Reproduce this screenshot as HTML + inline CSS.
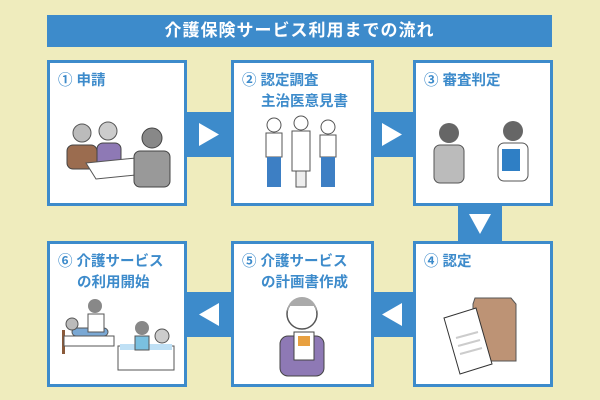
<!DOCTYPE html>
<html><head><meta charset="utf-8"><style>
body{margin:0;width:600px;height:400px;background:#efecbd;position:relative;overflow:hidden;font-family:"Liberation Sans","Noto Sans CJK JP",sans-serif}
.t{position:absolute;left:47px;top:15px;width:505px;height:32px;background:#3d8bcb;color:#fff;font-weight:bold;font-size:17px;text-align:center;line-height:32px;letter-spacing:1px}
.b{position:absolute;width:134px;height:140px;border:3px solid #3d8bcb;background:#fff}
.l{position:absolute;left:8px;top:8px;color:#3d8bcb;font-weight:bold;font-size:14.5px;line-height:21px;padding-left:19px;text-indent:-19px;white-space:nowrap}
.c{position:absolute;background:#3d8bcb}
svg{position:absolute}
</style></head><body>
<div class="t">介護保険サービス利用までの流れ</div>
<div class="c" style="left:187px;top:112px;width:44px;height:45px"></div>
<div class="c" style="left:371px;top:112px;width:42px;height:45px"></div>
<div class="c" style="left:458px;top:205px;width:44px;height:36px"></div>
<div class="c" style="left:187px;top:292px;width:44px;height:45px"></div>
<div class="c" style="left:371px;top:292px;width:42px;height:45px"></div>
<svg width="600" height="400" style="left:0;top:0">
<polygon points="199,123 219,134.5 199,146" fill="#fff"/>
<polygon points="382,123 402,134.5 382,146" fill="#fff"/>
<polygon points="469,214 491,214 480,234" fill="#fff"/>
<polygon points="219,303 199,314.5 219,326" fill="#fff"/>
<polygon points="402,303 382,314.5 402,326" fill="#fff"/>
</svg>
<div class="b" style="left:47px;top:60px"><div class="l">① 申請</div>
<svg width="134" height="140"><circle cx="32" cy="70" r="9" fill="#bbb" stroke="#555"/><rect x="17" y="82" width="30" height="24" rx="6" fill="#9b6c4f" stroke="#444"/><circle cx="58" cy="68" r="9" fill="#ccc" stroke="#555"/><rect x="47" y="80" width="24" height="24" rx="6" fill="#8e79b5" stroke="#444"/><polygon points="36,100 96,94 106,110 46,116" fill="#fff" stroke="#555"/><circle cx="102" cy="75" r="10" fill="#888" stroke="#444"/><rect x="84" y="88" width="36" height="36" rx="6" fill="#999" stroke="#444"/></svg></div>
<div class="b" style="left:231px;top:60px;width:137px"><div class="l">② 認定調査<br>主治医意見書</div>
<svg width="137" height="140"><g fill="#fff" stroke="#555"><circle cx="40" cy="62" r="7"/><rect x="32" y="70" width="16" height="24"/><circle cx="67" cy="60" r="7"/><rect x="58" y="68" width="18" height="40"/><circle cx="94" cy="64" r="7"/><rect x="86" y="72" width="16" height="22"/></g><g fill="#3d7fc4"><rect x="33" y="94" width="14" height="30"/><rect x="87" y="94" width="14" height="30"/></g><rect x="62" y="108" width="10" height="16" fill="#eee" stroke="#555"/></svg></div>
<div class="b" style="left:413px;top:60px"><div class="l">③ 審査判定</div>
<svg width="134" height="140"><circle cx="33" cy="70" r="10" fill="#666"/><rect x="18" y="82" width="30" height="38" rx="6" fill="#bbb" stroke="#555"/><circle cx="97" cy="68" r="10" fill="#666"/><rect x="82" y="80" width="30" height="38" rx="6" fill="#fff" stroke="#555"/><rect x="86" y="86" width="18" height="22" fill="#2f7fc5"/></svg></div>
<div class="b" style="left:413px;top:241px"><div class="l">④ 認定</div>
<svg width="134" height="140"><polygon points="59,54 95,54 100,60 100,117 57,117 57,60" fill="#bd9375" stroke="#555"/><polygon points="28,74 60,64 76,120 44,130" fill="#fff" stroke="#333"/><g stroke="#ccc" stroke-width="2"><line x1="40" y1="94" x2="62" y2="88"/><line x1="42" y1="102" x2="64" y2="96"/><line x1="44" y1="110" x2="66" y2="104"/></g></svg></div>
<div class="b" style="left:231px;top:241px;width:137px"><div class="l">⑤ 介護サービス<br>の計画書作成</div>
<svg width="137" height="140"><circle cx="68" cy="70" r="15" fill="#fff" stroke="#555" stroke-width="1.5"/><path d="M53,68 a15,15 0 0 1 30,0 l-3,-6 -24,0z" fill="#aaa"/><rect x="46" y="92" width="44" height="40" rx="8" fill="#8e79b5" stroke="#444"/><rect x="60" y="88" width="20" height="28" fill="#fff" stroke="#444"/><rect x="64" y="92" width="12" height="10" fill="#e8a040"/></svg></div>
<div class="b" style="left:47px;top:241px"><div class="l">⑥ 介護サービス<br>の利用開始</div>
<svg width="134" height="140"><rect x="12" y="86" width="3" height="24" fill="#8a5a3a"/><rect x="14" y="92" width="50" height="10" fill="#fff" stroke="#555"/><rect x="22" y="84" width="36" height="8" rx="4" fill="#7aa8d4" stroke="#555"/><circle cx="22" cy="80" r="6" fill="#bbb" stroke="#555"/><circle cx="45" cy="62" r="7" fill="#888"/><rect x="38" y="70" width="16" height="18" fill="#fff" stroke="#555"/><rect x="68" y="102" width="56" height="24" fill="#fff" stroke="#555"/><rect x="70" y="100" width="52" height="6" fill="#bfe0f5"/><circle cx="92" cy="84" r="7" fill="#888"/><circle cx="112" cy="92" r="7" fill="#ccc" stroke="#555"/><rect x="85" y="92" width="14" height="14" fill="#7ac0e0" stroke="#555"/></svg></div>
</body></html>
